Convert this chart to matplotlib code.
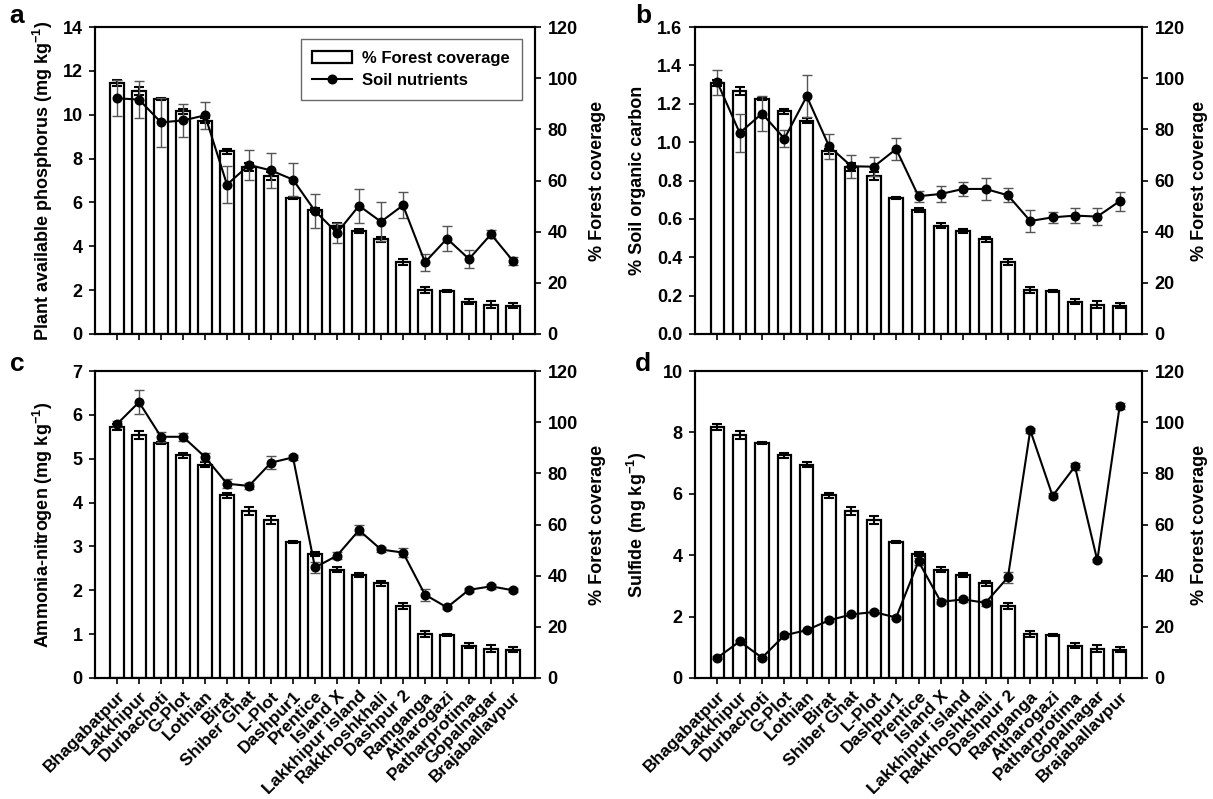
import matplotlib
matplotlib.use("Agg")
import matplotlib.pyplot as plt
from matplotlib.patches import Patch
from matplotlib.lines import Line2D
import numpy as np

plt.rcParams['font.family'] = ['Liberation Sans', 'DejaVu Sans']
plt.rcParams['font.weight'] = 'bold'
plt.rcParams['axes.labelweight'] = 'bold'
plt.rcParams['mathtext.fontset'] = 'custom'
plt.rcParams['mathtext.rm'] = 'Liberation Sans:bold'
plt.rcParams['mathtext.default'] = 'rm'

sites = ["Bhagabatpur", "Lakkhipur", "Durbachoti", "G-Plot", "Lothian", "Birat",
         "Shiber Ghat", "L-Plot", "Dashpur1", "Prentice", "Island X",
         "Lakkhipur island", "Rakkhoshkhali", "Dashpur 2", "Ramganga",
         "Atharogazi", "Patharprotima", "Gopalnagar", "Brajaballavpur"]

forest_cov = [98.1, 95.0, 92.0, 87.1, 83.3, 71.4, 65.4, 61.8, 53.0, 48.6,
              42.3, 40.2, 37.0, 28.3, 17.2, 16.9, 12.6, 11.5, 11.0]
forest_err = [1.0, 1.5, 0.4, 1.0, 1.0, 1.0, 1.5, 1.6, 0.4, 0.8,
              1.0, 0.8, 1.0, 1.2, 1.3, 0.4, 1.0, 1.3, 1.0]

phosphorus = [10.75, 10.69, 9.65, 9.74, 9.97, 6.81, 7.71, 7.46, 7.04, 5.61,
              4.61, 5.85, 5.12, 5.87, 3.27, 4.35, 3.42, 4.55, 3.33]
phosphorus_err = [0.83, 0.85, 1.12, 0.75, 0.62, 0.84, 0.68, 0.8, 0.75, 0.78,
                  0.44, 0.78, 0.89, 0.6, 0.38, 0.57, 0.43, 0.18, 0.2]

soc = [1.312, 1.048, 1.149, 1.018, 1.239, 0.978, 0.874, 0.872, 0.964, 0.718,
       0.730, 0.756, 0.756, 0.723, 0.589, 0.608, 0.617, 0.612, 0.692]
soc_err = [0.065, 0.097, 0.09, 0.044, 0.11, 0.065, 0.06, 0.05, 0.056, 0.028,
           0.042, 0.038, 0.059, 0.036, 0.056, 0.03, 0.04, 0.045, 0.05]

ammonia = [5.79, 6.29, 5.50, 5.50, 5.04, 4.43, 4.38, 4.91, 5.03, 2.52,
           2.79, 3.37, 2.93, 2.86, 1.90, 1.61, 2.01, 2.09, 2.00]
ammonia_err = [0.06, 0.28, 0.12, 0.09, 0.09, 0.1, 0.07, 0.15, 0.05, 0.13,
               0.08, 0.11, 0.06, 0.1, 0.14, 0.04, 0.05, 0.06, 0.05]

sulfide = [0.66, 1.19, 0.66, 1.39, 1.56, 1.88, 2.07, 2.15, 1.97, 3.80,
           2.48, 2.56, 2.45, 3.28, 8.07, 5.93, 6.89, 3.83, 8.85]
sulfide_err = [0.05, 0.06, 0.04, 0.06, 0.05, 0.07, 0.06, 0.06, 0.06, 0.12,
               0.08, 0.08, 0.1, 0.18, 0.08, 0.08, 0.12, 0.05, 0.1]

W, H = 1213, 799
fig = plt.figure(figsize=(W / 100, H / 100), dpi=100)

def rect(x0, y0, x1, y1):
    return [x0 / W, 1 - y1 / H, (x1 - x0) / W, (y1 - y0) / H]

panels = [
    dict(letter='a', box=(95, 27, 535, 334), vals=phosphorus, err=phosphorus_err,
         ylim=14, step=2, fmt='{:.0f}', lx=43, rx=598, letter_xy=(17, 16),
         ylabel='Plant available phosphorus (mg kg$^{-1}$)', xlabels=False, legend=True),
    dict(letter='b', box=(695, 27, 1142, 334), vals=soc, err=soc_err,
         ylim=1.6, step=0.2, fmt='{:.1f}', lx=637, rx=1200, letter_xy=(643, 16),
         ylabel='% Soil organic carbon', xlabels=False, legend=False),
    dict(letter='c', box=(95, 371, 535, 678), vals=ammonia, err=ammonia_err,
         ylim=7, step=1, fmt='{:.0f}', lx=43, rx=598, letter_xy=(17, 364),
         ylabel='Ammonia-nitrogen (mg kg$^{-1}$)', xlabels=True, legend=False),
    dict(letter='d', box=(695, 371, 1142, 678), vals=sulfide, err=sulfide_err,
         ylim=10, step=2, fmt='{:.0f}', lx=637, rx=1200, letter_xy=(643, 364),
         ylabel='Sulfide (mg kg$^{-1}$)', xlabels=True, legend=False),
]

x = np.arange(len(sites))
for p in panels:
    x0, y0, x1, y1 = p['box']
    ax = fig.add_axes(rect(x0, y0, x1, y1))
    ax2 = ax.twinx()
    ax.set_zorder(ax2.get_zorder() + 1)
    ax.patch.set_visible(False)

    ax2.bar(x, forest_cov, width=0.6, color='white', edgecolor='black', linewidth=1.6)
    ax2.errorbar(x, forest_cov, yerr=forest_err, fmt='none', ecolor='black',
                 elinewidth=1.5, capsize=3.6, capthick=1.5)
    ax2.set_ylim(0, 120)
    ax2.set_yticks(np.arange(0, 121, 20))

    ax.errorbar(x, p['vals'], yerr=p['err'], fmt='none', ecolor='#555555',
                elinewidth=1.0, capsize=3.4, capthick=1.0, zorder=2)
    ax.plot(x, p['vals'], color='black', lw=1.5, marker='o', markersize=6.2, zorder=3)
    ax.set_ylim(0, p['ylim'])
    ticks = np.arange(0, p['ylim'] + p['step'] / 2, p['step'])
    ax.set_yticks(ticks)
    ax.set_yticklabels([p['fmt'].format(t) for t in ticks])
    ax.set_xlim(-1.0, len(sites))
    ax.set_xticks(x)
    if p['xlabels']:
        ax.set_xticklabels(sites, rotation=45, ha='right', rotation_mode='anchor',
                           fontsize=12.5)
    else:
        ax.set_xticklabels([])

    for a in (ax, ax2):
        a.tick_params(axis='both', direction='out', length=4.5, width=1.2,
                      labelsize=13, pad=4.5)
        for s in a.spines.values():
            s.set_linewidth(1.5)
    ax.tick_params(axis='x', labelsize=12.5, pad=3)

    yc = 1 - ((y0 + y1) / 2) / H
    fig.text(p['lx'] / W, yc, p['ylabel'], rotation=90, ha='center', va='center',
             fontsize=13, fontweight='bold')
    fig.text(p['rx'] / W, yc, '% Forest coverage', rotation=90, ha='center',
             va='center', fontsize=13, fontweight='bold')

    lxp, lyp = p['letter_xy']
    fig.text(lxp / W, 1 - lyp / H, p['letter'], fontsize=19, fontweight='bold',
             ha='center', va='center')

    if p['legend']:
        handles = [Patch(facecolor='white', edgecolor='black', linewidth=1.6),
                   Line2D([0], [0], color='black', lw=1.5, marker='o', markersize=6.2)]
        leg = ax.legend(handles, ['% Forest coverage', 'Soil nutrients'],
                        loc='upper right', bbox_to_anchor=(0.970, 0.961),
                        borderaxespad=0, fontsize=12, frameon=True, fancybox=False,
                        edgecolor='#444444', handlelength=2.4, handletextpad=0.6,
                        borderpad=0.7, labelspacing=0.45)
        leg.get_frame().set_linewidth(1.0)

fig.savefig('out.png', dpi=100)
